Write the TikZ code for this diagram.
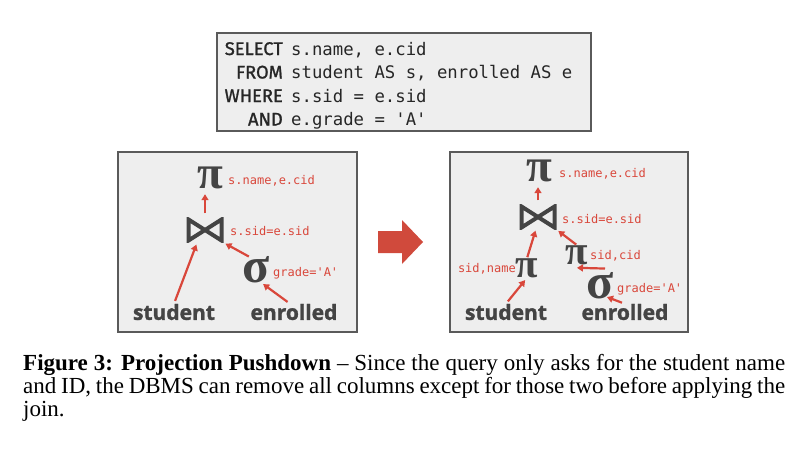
\documentclass[tikz,border=0pt]{standalone}
\usepackage{fontspec}
\setmainfont{Liberation Serif}
\newfontfamily\codefont{DejaVu Sans Mono}
\newfontfamily\kwfont[FakeBold=1.2]{Fira Sans}
\newfontfamily\relfont[BoldFeatures={FakeBold=1.5}]{Open Sans}
\newfontfamily\symfont{Liberation Serif}
\usetikzlibrary{arrows.meta}
\definecolor{panelfill}{HTML}{EEEEEE}
\definecolor{panelline}{HTML}{5A5A5A}
\definecolor{opred}{HTML}{D9473B}
\definecolor{opgray}{HTML}{444444}
\definecolor{bigred}{HTML}{D04A3C}
\begin{document}
\begin{tikzpicture}[x=1pt,y=-1pt,
  panel/.style={draw=panelline, fill=panelfill, line width=2pt},
  kw/.style={anchor=base east, inner sep=0, font=\kwfont\fontsize{18.3}{20}\selectfont, text=black!85},
  code/.style={anchor=base west, inner sep=0, font=\codefont\fontsize{17.3}{20}\selectfont, text=black!85},
  rel/.style={inner sep=0, font=\relfont\bfseries\fontsize{21}{24}\selectfont, text=opgray},
  pisym/.style={inner sep=0, font=\symfont\bfseries\fontsize{47}{47}\selectfont, text=opgray},
  pismall/.style={inner sep=0, font=\symfont\bfseries\fontsize{41}{41}\selectfont, text=opgray},
  sigsym/.style={inner sep=0, font=\symfont\bfseries\fontsize{50}{50}\selectfont, text=opgray},
  bowtie/.style={inner sep=0, minimum width=37pt, minimum height=25pt,
    path picture={\draw[opgray, line width=4pt, line join=miter]
      ([shift={(2pt,-2pt)}]path picture bounding box.north west) --
      ([shift={(2pt,2pt)}]path picture bounding box.south west) --
      ([shift={(-2pt,-2pt)}]path picture bounding box.north east) --
      ([shift={(-2pt,2pt)}]path picture bounding box.south east) -- cycle;}},
  lbl/.style={inner sep=0, font=\codefont\fontsize{12}{14}\selectfont, text=opred},
  arr/.style={draw=opred, line width=2.2pt, -{Triangle[length=6pt,width=7pt]}},
  captext/.style={anchor=base west, inner sep=0, font=\fontsize{23}{26}\selectfont}
]
\useasboundingbox (0,0) rectangle (798,453);

% SQL box
\draw[panel] (217,33) rectangle (591,131);
\node[kw] (k1) at (283,55) {SELECT};
\node[kw] (k2) at (283,78.5) {FROM};
\node[kw] (k3) at (283,102) {WHERE};
\node[kw] (k4) at (283,125.5) {AND};
\node[code] (c1) at (291,55) {s.name, e.cid};
\node[code] (c2) at (291,78.5) {student AS s, enrolled AS e};
\node[code] (c3) at (291,102) {s.sid = e.sid};
\node[code] (c4) at (291,125.5) {e.grade = 'A'};

% left panel
\draw[panel] (118,152) rectangle (357,332);
\node[pisym] (lpi) at (210,178) {π};
\node[lbl, anchor=west] (lpil) at (228,181) {s.name,e.cid};
\node[bowtie] (ljoin) at (205,230) {};
\node[lbl, anchor=west] (ljoinl) at (230,231) {s.sid=e.sid};
\node[sigsym] (lsig) at (256,270) {σ};
\node[lbl, anchor=west] (lsigl) at (273,273) {grade='A'};
\node[rel] (lstu) at (174,312) {student};
\node[rel] (lenr) at (294,312) {enrolled};
\draw[arr, shorten <=4pt, shorten >=5pt] (ljoin.north) -- (ljoin.north |- lpi.south);
\draw[arr, shorten <=3pt, shorten >=2pt] (lstu.north) -- (ljoin.-122);
\draw[arr, shorten >=2pt] (lsig.118) -- (ljoin.south east);
\draw[arr, shorten <=3pt, shorten >=1pt] ([xshift=-4pt]lenr.north) -- (lsig.-65);

% big arrow
\fill[bigred] (378,231) -- (402,231) -- (402,220) -- (423,242) -- (402,264) -- (402,253) -- (378,253) -- cycle;

% right panel
\draw[panel] (450,152) rectangle (688,332);
\node[pisym] (rpi) at (539,171) {π};
\node[lbl, anchor=west] (rpil) at (559,174) {s.name,e.cid};
\node[bowtie] (rjoin) at (538,217) {};
\node[lbl, anchor=west] (rjoinl) at (562,219) {s.sid=e.sid};
\node[pismall] (spi) at (527,268) {π};
\node[lbl, anchor=east] (spil) at (516,269) {sid,name};
\node[pismall] (epi) at (577,255) {π};
\node[lbl, anchor=west] (epil) at (590,256) {sid,cid};
\node[sigsym] (rsig) at (600,286) {σ};
\node[lbl, anchor=west] (rsigl) at (617,289) {grade='A'};
\node[rel] (rstu) at (506,312) {student};
\node[rel] (renr) at (625,312) {enrolled};
\draw[arr, shorten <=4pt, shorten >=5pt] (rjoin.north) -- (rjoin.north |- rpi.south);
\draw[arr, shorten <=1pt, shorten >=1pt] (spi.north) -- (rjoin.-100);
\draw[arr, shorten <=3pt, shorten >=3pt] (rstu.north) -- (spi.south);
\draw[arr, shorten <=1pt, shorten >=2pt] (epi.north) -- (rjoin.south east);
\draw[arr] ([shift={(5pt,4pt)}]rsig.north) -- ([yshift=-3pt]epi.south);
\draw[arr] ([shift={(-3pt,1pt)}]renr.north) -- ([shift={(7pt,-11pt)}]rsig.center);

% caption
\node[captext] (cap1) at (23,370) {\makebox[762pt][s]{\textbf{Figure 3: Projection Pushdown} – Since the query only asks for the student name}};
\node[captext] (cap2) at (23,393) {\makebox[762pt][s]{and ID, the DBMS can remove all columns except for those two before applying the}};
\node[captext] (cap3) at (23,416) {join.};
\end{tikzpicture}
\end{document}
